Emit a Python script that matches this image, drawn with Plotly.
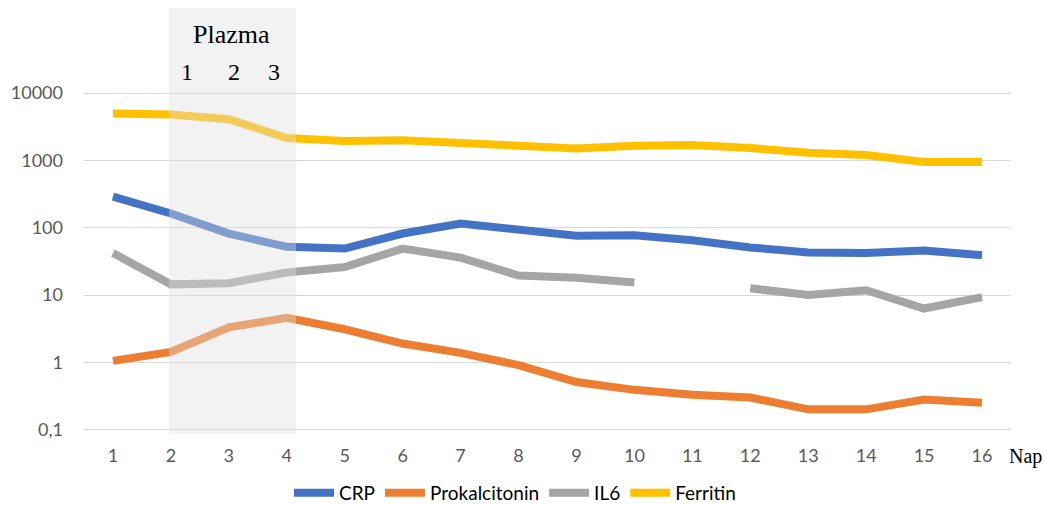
import plotly.graph_objects as go

days = list(range(1, 17))
crp = [290, 163, 82, 52, 49, 82, 115, 91, 76, 77, 65, 51, 43, 42, 46, 39]
prokalcitonin = [1.05, 1.43, 3.3, 4.6, 3.1, 1.9, 1.38, 0.91, 0.51, 0.39, 0.33, 0.30, 0.20, 0.20, 0.28, 0.25]
il6 = [42, 14.4, 15, 21.6, 26, 49, 36, 19.5, 18, 15.4, None, 12.6, 10, 11.8, 6.3, 9.3]
ferritin = [5000, 4800, 4100, 2150, 1950, 2000, 1820, 1700, 1500, 1650, 1700, 1530, 1300, 1200, 950, 950]

series = [
    ("CRP", crp, "#4472C4"),
    ("Prokalcitonin", prokalcitonin, "#ED7D31"),
    ("IL6", il6, "#A5A5A5"),
    ("Ferritin", ferritin, "#FFC000"),
]

ytickvals = [0.1, 1, 10, 100, 1000, 10000]
yticktext = ["0,1", "1", "10", "100", "1000", "10000"]

plasma_start, plasma_end = 1.967, 4.16

fig = go.Figure()
for name, vals, color in series:
    fig.add_trace(go.Scatter(
        x=days, y=vals, name=name, mode="lines",
        line=dict(color=color, width=8), connectgaps=False,
    ))

fig.add_shape(type="rect", xref="x", yref="paper",
              x0=plasma_start, x1=plasma_end, y0=0, y1=1,
              fillcolor="rgb(222,222,222)", opacity=0.4,
              line=dict(width=0), layer="above")

serif = "Liberation Serif, Times New Roman, serif"
fig.add_annotation(text="Plazma", xref="paper", yref="paper", x=(231 - 84) / 927, y=(436 - 35) / 428,
                   xanchor="center", yanchor="middle",
                   showarrow=False, font=dict(family=serif, size=26, color="#000"))
for lbl, xp in zip(["1", "2", "3"], [187, 234, 274]):
    fig.add_annotation(text=lbl, xref="paper", yref="paper", x=(xp - 84) / 927, y=(436 - 72) / 428,
                       xanchor="center", yanchor="middle",
                       showarrow=False, font=dict(family=serif, size=24, color="#000"))
fig.add_annotation(text="Nap", xref="paper", yref="paper", x=(1025 - 84) / 927, y=(436 - 459) / 428,
                   xanchor="center", yanchor="middle",
                   showarrow=False, font=dict(family=serif, size=20, color="#000"))

tickfont = dict(family="Lato, Carlito, Calibri, sans-serif", size=18, color="#595959")
fig.update_layout(
    width=1046, height=506,
    margin=dict(l=84, r=35, t=8, b=70),
    paper_bgcolor="white", plot_bgcolor="white",
    showlegend=True,
    legend=dict(orientation="h", x=(515 - 84) / 927, xanchor="center", yref="container",
                y=(506 - 493) / 506, yanchor="middle",
                font=dict(family="Lato, Carlito, Calibri, sans-serif", size=19, color="#000"),
                itemwidth=40, traceorder="normal"),
    xaxis=dict(range=[0.5, 16.5], tickvals=days, ticktext=[str(d) for d in days],
               showgrid=False, zeroline=False, showline=False, ticks="",
               tickfont=tickfont, ticklabelstandoff=9),
    yaxis=dict(type="log", range=[-1.065, 5.265], tickvals=ytickvals, ticktext=yticktext,
               showgrid=True, gridcolor="#D9D9D9", gridwidth=1, zeroline=False,
               showline=False, ticks="", tickfont=tickfont, ticklabelstandoff=20),
)

fig.write_html(
    "out.html",
    config={"displayModeBar": False},
    post_script="document.body.style.margin='0';document.body.style.overflow='hidden';",
)
